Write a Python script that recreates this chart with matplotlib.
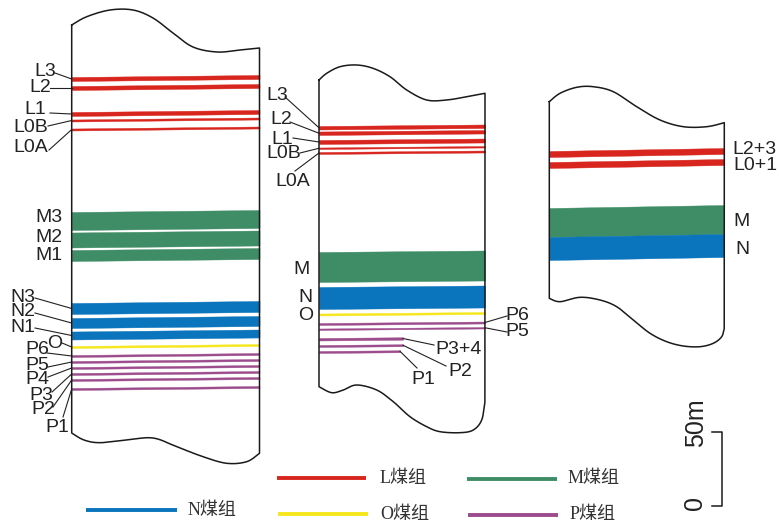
import numpy as np
import matplotlib.pyplot as plt

# coal seams per column: name, group, top and base depth (px from top at left edge)
c1_names = ['L3', 'L2', 'L1', 'L0B', 'L0A', 'M3', 'M2', 'M1', 'N3', 'N2', 'N1',
            'O', 'P6', 'P5', 'P4', 'P3', 'P2', 'P1']
c1_group = ['L', 'L', 'L', 'L', 'L', 'M', 'M', 'M', 'N', 'N', 'N',
            'O', 'P', 'P', 'P', 'P', 'P', 'P']
c1_top = [77, 86, 112, 119.5, 128.5, 212, 232.5, 250, 303, 318, 331.5,
          346, 355, 361, 367, 373, 379, 388]
c1_base = [81, 90, 116, 121.5, 130.5, 230, 247.5, 261, 314, 328, 339.5,
           348, 357, 363, 369, 375, 381, 390]

c2_names = ['L3', 'L2', 'L1', 'L0B', 'L0A', 'M', 'N', 'O', 'P6', 'P5', 'P3+4', 'P2', 'P1']
c2_group = ['L', 'L', 'L', 'L', 'L', 'M', 'N', 'O', 'P', 'P', 'P', 'P', 'P']
c2_top = [126, 131.5, 140, 147.5, 152, 252, 287, 313.5, 323, 328.5, 338, 345, 351]
c2_base = [129.5, 135, 144, 149, 154, 282, 309, 315.5, 325, 330, 340.5, 347, 353]
# seams that pinch out inside the column (x where they end)
c2_pinch = {'P3+4': 403, 'P2': 403, 'P1': 400}

c3_names = ['L2+3', 'L0+1', 'M', 'N']
c3_group = ['L', 'L', 'M', 'N']
c3_top = [151, 162, 208, 237]
c3_base = [157, 168, 237, 260]

colors = {'L': '#d8261f', 'M': '#3f8d66', 'N': '#0a74bc', 'O': '#f6e61c', 'P': '#9c4c8c'}
legend_names = {'L': 'L煤组', 'M': 'M煤组', 'N': 'N煤组', 'O': 'O煤组', 'P': 'P煤组'}

# column outlines (top and bottom boundary traced left->right)
c1_topline = [(71.7, 25), (86.7, 16.7), (110, 10), (133, 10), (153, 18), (173, 33),
              (193, 47), (217, 52), (240, 50), (259.5, 48)]
c1_botline = [(71.7, 433), (84, 440), (100, 442.7), (126.7, 440), (153, 438), (176.7, 446.7),
              (203, 456.7), (226.7, 463.3), (246.7, 461.7), (259.5, 453.3)]
c2_topline = [(319, 80), (326.7, 73.3), (340, 66.7), (356.7, 65), (373, 68.3), (390, 76.7),
              (406.7, 90), (426.7, 100), (446.7, 100), (466.7, 96.7), (485, 93.3)]
c2_botline = [(319, 386.7), (331.7, 392.7), (343.3, 390), (356.7, 385), (376.7, 390),
              (393.3, 401.7), (410, 416.7), (426.7, 426.7), (440, 431.7), (460, 432.7),
              (473.3, 430), (481.7, 420), (485, 401.7)]
c3_topline = [(549.3, 101.7), (560, 93.3), (576.7, 87.3), (593.3, 86.7), (613.3, 91.7),
              (636.7, 106.7), (660, 120), (683.3, 126.7), (706.7, 126.7), (724.3, 122.7)]
c3_botline = [(549.3, 298.3), (560, 301.7), (580, 297.3), (600, 300), (616.7, 306.7),
              (633.3, 320), (650, 333.3), (666.7, 341.7), (683.3, 346), (700, 346.7),
              (713.3, 343.3), (721.7, 336.7), (724.3, 328.3)]

# label layout: name -> (text x, text y, leader start x, leader start y)
c1_labels = {'L3': (45, 71, 55, 73), 'L2': (40, 88, 50, 88), 'L1': (35, 110, 50, 113),
             'L0B': (31, 127, 48, 126), 'L0A': (31, 148, 49, 150),
             'M3': (49, 217, None, None), 'M2': (49, 237, None, None), 'M1': (49, 256, None, None),
             'N3': (23, 297, 35, 298), 'N2': (23, 311, 35, 313), 'N1': (23, 327, 35, 328),
             'O': (55, 343, 62, 343), 'P6': (37, 350, 47, 353), 'P5': (37, 365, 48, 367),
             'P4': (37, 380, 48, 377), 'P3': (41, 395, 52, 392), 'P2': (43, 410, 53, 407),
             'P1': (57, 428, 63, 417)}
c2_labels = {'L3': (277, 95, 285, 97), 'L2': (281, 120, 290, 122), 'L1': (282, 139, 293, 138),
             'L0B': (284, 154, 300, 153), 'L0A': (293, 182, 295, 171),
             'M': (302, 269, None, None), 'N': (305, 298, None, None), 'O': (306, 316, None, None),
             'P6': (517, 316, 507, 316), 'P5': (517, 332, 507, 332),
             'P3+4': (459, 350, 434, 345), 'P2': (460, 371, 446, 366), 'P1': (423, 380, 417, 368)}
c3_labels = {'L2+3': (754, 150, None, None), 'L0+1': (755, 166, None, None),
             'M': (742, 222, None, None), 'N': (742, 249, None, None)}


def smooth(pts, n=16):
    p = np.asarray(pts, float)
    p = np.vstack([p[0], p, p[-1]])
    out = []
    t = np.linspace(0, 1, n, endpoint=False)[:, None]
    for i in range(1, len(p) - 2):
        p0, p1, p2, p3 = p[i - 1], p[i], p[i + 1], p[i + 2]
        out.append(0.5 * (2 * p1 + (-p0 + p2) * t + (2 * p0 - 5 * p1 + 4 * p2 - p3) * t ** 2
                          + (-p0 + 3 * p1 - 3 * p2 + p3) * t ** 3))
    out.append(p[-2][None])
    return np.vstack(out)


fig = plt.figure(figsize=(7.79, 5.24), dpi=100)
ax = fig.add_axes([0, 0, 1, 1])
ax.set_xlim(0, 779)
ax.set_ylim(524, 0)
ax.axis('off')

lab_font = dict(family='Liberation Sans', fontsize=14, color='#222222')


def draw_column(names, group, top, base, topline, botline, labels, tilt, pinch=None):
    xl, xr = topline[0][0], topline[-1][0]
    pinch = pinch or {}
    for nm, g, t, b in zip(names, group, top, base):
        x_end = pinch.get(nm, xr)
        k = tilt * (x_end - xl) / (xr - xl)
        ax.fill_between([xl, x_end], [t, t - k], [b, b - k], color=colors[g], lw=0.3,
                        edgecolor=colors[g])
        tx, ty, lx, ly = labels[nm]
        ax.text(tx, ty, nm, ha='center', va='center', **lab_font)
        if lx is not None:
            mid = (t + b) / 2
            if lx > xr or nm in pinch:
                ax.plot([lx, x_end], [ly, mid - k], color='#222222', lw=0.8)
            else:
                ax.plot([lx, xl], [ly, mid], color='#222222', lw=0.8)
    top_s = smooth(topline)
    bot_s = smooth(botline)
    outline = np.vstack([top_s, bot_s[::-1], top_s[:1]])
    ax.plot(outline[:, 0], outline[:, 1], color='#1a1a1a', lw=1.1)


draw_column(c1_names, c1_group, c1_top, c1_base, c1_topline, c1_botline, c1_labels, 2)
draw_column(c2_names, c2_group, c2_top, c2_base, c2_topline, c2_botline, c2_labels, 1.5, c2_pinch)
draw_column(c3_names, c3_group, c3_top, c3_base, c3_topline, c3_botline, c3_labels, 3)

# legend
leg_layout = {'L': (277, 366, 478, 380), 'M': (467, 557, 479, 568),
              'N': (86, 177, 510, 188), 'O': (278, 368, 514, 380), 'P': (468, 558, 515, 570)}
for g, (x0, x1, y, tx) in leg_layout.items():
    ax.plot([x0, x1], [y, y], color=colors[g], lw=2.8, solid_capstyle='butt')
    ax.text(tx, y, legend_names[g], ha='left', va='center', fontsize=13, color='#333333',
            family=['Liberation Serif', 'Noto Sans CJK SC'])

# scale bar (0 - 50 m)
ax.plot([712, 722, 722, 712], [432, 432, 506, 506], color='#1a1a1a', lw=1.1)
ax.text(696, 423, '50m', rotation=90, ha='center', va='center',
        family='Liberation Sans', fontsize=18, color='#222222')
ax.text(695, 503, '0', rotation=90, ha='center', va='center',
        family='Liberation Sans', fontsize=18, color='#222222')

fig.savefig('out.png', dpi=100)
